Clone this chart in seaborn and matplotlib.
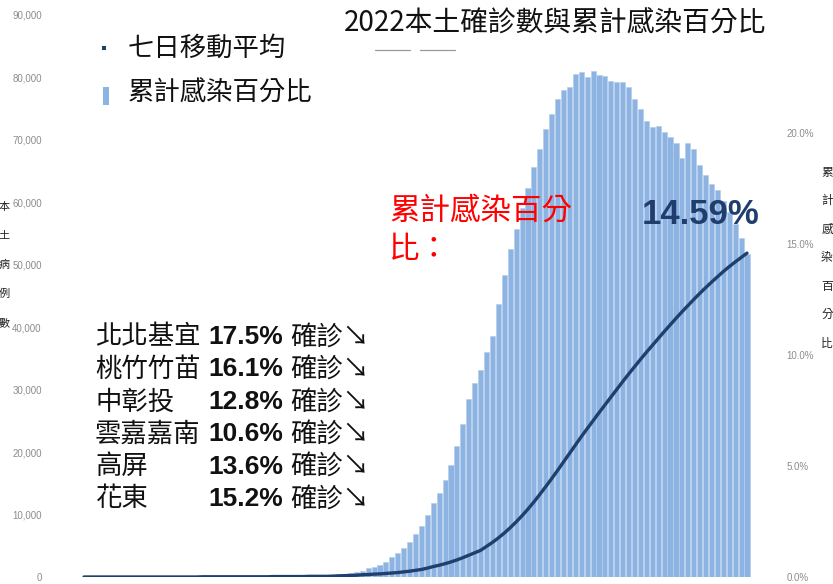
import numpy as np
import pandas as pd
import matplotlib
matplotlib.use("Agg")
import matplotlib.pyplot as plt
import seaborn as sns
from matplotlib import font_manager
from matplotlib.ticker import FuncFormatter
from matplotlib.patches import Rectangle
from matplotlib.lines import Line2D

# ---------------- data ----------------
daily_cases = [
    5, 6, 8, 10, 12, 14, 16, 18, 20, 22,
    25, 28, 30, 34, 38, 42, 46, 50, 55, 60,
    66, 72, 78, 85, 92, 100, 110, 120, 130, 140,
    150, 160, 170, 180, 190, 200, 210, 220, 230, 240,
    245,
    250, 350, 450, 500, 600, 800, 1000, 1400, 1600,
    1900, 2400, 3200, 3800, 4600, 5600, 6900, 8200, 9900,
    11900, 13500, 15500, 18000, 21000, 24500, 28500, 31000,
    33200, 36000, 38600, 43700, 48400, 52600, 55800, 59100,
    62300, 65700, 68600, 71800, 74200, 76600, 78000, 78500,
    80600, 80900, 80100, 81100, 80400, 80300, 79500, 79200,
    79200, 78500, 76600, 75000, 73000, 72100, 72300, 71200,
    70400, 69500, 67100, 69500, 68600, 66000, 64300, 63000,
    61900, 60200, 58500, 56500, 54300, 51800,
]

cum_pct = [
    0.00, 0.00, 0.00, 0.00, 0.00, 0.00, 0.00, 0.00, 0.00, 0.00,
    0.00, 0.00, 0.00, 0.00, 0.00, 0.00, 0.00, 0.00, 0.00, 0.00,
    0.01, 0.01, 0.01, 0.01, 0.01, 0.01, 0.01, 0.01, 0.01, 0.01,
    0.01, 0.01, 0.02, 0.02, 0.02, 0.02, 0.02, 0.02, 0.03, 0.03,
    0.03,
    0.03, 0.04, 0.05, 0.06, 0.07, 0.08, 0.10, 0.11, 0.13,
    0.14, 0.16, 0.18, 0.20, 0.23, 0.26, 0.30, 0.34, 0.40,
    0.47, 0.53, 0.60, 0.68, 0.77, 0.87, 0.98, 1.09,
    1.20, 1.38, 1.56, 1.76, 1.98, 2.22, 2.48, 2.76,
    3.06, 3.38, 3.72, 4.07, 4.43, 4.80, 5.18, 5.56,
    5.94, 6.32, 6.68, 7.04, 7.40, 7.75, 8.10, 8.45,
    8.80, 9.14, 9.47, 9.80, 10.12, 10.43, 10.74, 11.05,
    11.35, 11.65, 11.94, 12.22, 12.50, 12.77, 13.03, 13.28,
    13.52, 13.76, 13.98, 14.19, 14.39, 14.59,
]

left_ticks = [0, 10000, 20000, 30000, 40000, 50000, 60000, 70000, 80000, 90000]
right_ticks = [0, 5, 10, 15, 20]

title = "2022本土確診數與累計感染百分比"
legend_labels = ["七日移動平均", "累計感染百分比"]
left_label = "本土病例數"
right_label = "累計感染百分比"
red_note = ["累計感染百分", "比："]
big_value = "14.59%"
regions = ["北北基宜", "桃竹竹苗", "中彰投", "雲嘉嘉南", "高屏", "花東"]
region_pct = ["17.5%", "16.1%", "12.8%", "10.6%", "13.6%", "15.2%"]
region_tail = "確診↘"

# ---------------- style ----------------
sns.set_theme(style="white")
CJK = ["Noto Sans CJK TC", "DejaVu Sans"]
plt.rcParams["font.family"] = CJK
names = {f.name for f in font_manager.fontManager.ttflist}
NARROW = "Liberation Sans Narrow" if "Liberation Sans Narrow" in names else "Liberation Sans"
ARIAL = "Liberation Sans" if "Liberation Sans" in names else "DejaVu Sans"

BAR = "#8db3e2"
BAR_EDGE = "#b6cfee"
LINE = "#1f3f6e"
GRAY = "#8c8c8c"

W, H = 833, 584
fig = plt.figure(figsize=(W / 100, H / 100), dpi=100)

def fx(x):
    return x / W

def fy(y):
    return 1 - y / H

ax_l, ax_r, ax_t, ax_b = 82, 752, 15, 577
ax = fig.add_axes([fx(ax_l), fy(ax_b), (ax_r - ax_l) / W, (ax_b - ax_t) / H])

df_bar = pd.DataFrame({"day": np.arange(len(daily_cases)), "cases": daily_cases})
sns.barplot(data=df_bar, x="day", y="cases", color=BAR, saturation=1,
            width=0.86, edgecolor=BAR_EDGE, linewidth=0.5, ax=ax, errorbar=None)

ax2 = ax.twinx()
df_line = pd.DataFrame({"day": np.arange(len(cum_pct)), "pct": cum_pct})
sns.lineplot(data=df_line, x="day", y="pct", color=LINE, linewidth=2.4, ax=ax2)

n = len(daily_cases)
px_per = (747 - 84) / (n - 1)
ax.set_xlim(-(84 - ax_l) / px_per, (n - 1) + (ax_r - 747) / px_per)
ax.set_ylim(0, 90000)
ax2.set_ylim(0, 20 * (ax_b - ax_t) / (ax_b - 133))

ax.set_yticks(left_ticks)
ax.yaxis.set_major_formatter(FuncFormatter(lambda v, p: f"{int(v):,}"))
ax2.set_yticks(right_ticks)
ax2.yaxis.set_major_formatter(FuncFormatter(lambda v, p: f"{v:.1f}%"))
ax.set_xticks([])
ax2.set_xticks([])
for a in (ax, ax2):
    a.set_xlabel("")
    a.set_ylabel("")
    for s in a.spines.values():
        s.set_visible(False)
    a.grid(False)
ax.tick_params(axis="y", length=0, pad=29, labelsize=7, labelcolor=GRAY)
ax2.tick_params(axis="y", length=0, pad=25, labelsize=7, labelcolor=GRAY)
for lab in ax.get_yticklabels() + ax2.get_yticklabels():
    lab.set_fontfamily(NARROW)
ax.patch.set_alpha(0)

# ---------------- texts ----------------
fig.text(fx(555), fy(23), title, ha="center", va="center", fontsize=20,
         color="#111111", family=CJK)
for x0, x1 in [(375, 410), (420, 455)]:
    fig.add_artist(Line2D([fx(x0), fx(x1)], [fy(50), fy(50)], color="#9a9a9a",
                          linewidth=0.9, transform=fig.transFigure))

# legend
fig.add_artist(Rectangle((fx(102), fy(50)), 4 / W, 4 / H, transform=fig.transFigure,
                         facecolor=LINE, edgecolor="none"))
fig.add_artist(Rectangle((fx(103), fy(105)), 6 / W, 18 / H, transform=fig.transFigure,
                         facecolor=BAR, edgecolor="none"))
fig.text(fx(128), fy(48), legend_labels[0], ha="left", va="center", fontsize=19,
         color="#111111", family=CJK)
fig.text(fx(128), fy(93), legend_labels[1], ha="left", va="center", fontsize=19,
         color="#111111", family=CJK)

# axis labels (stacked characters)
for k, ch in enumerate(left_label):
    fig.text(fx(4), fy(207 + 29 * k), ch, ha="center", va="center", fontsize=8,
             color="#222222", family=CJK)
for k, ch in enumerate(right_label):
    fig.text(fx(827), fy(172 + 28.5 * k), ch, ha="center", va="center", fontsize=8.5,
             color="#222222", family=CJK)

# red note
fig.text(fx(389), fy(211), red_note[0], ha="left", va="center", fontsize=22,
         color="#ff0000", family=CJK)
fig.text(fx(389), fy(250), red_note[1], ha="left", va="center", fontsize=22,
         color="#ff0000", family=CJK)

# big value
fig.text(fx(701), fy(214), big_value, ha="center", va="center", fontsize=25,
         fontweight="bold", color="#1f3d6d", family=NARROW)

# regional list
for k, (nm, pc) in enumerate(zip(regions, region_pct)):
    y = 337 + 32.4 * k
    fig.text(fx(95), fy(y), nm, ha="left", va="center", fontsize=19,
             color="#111111", family=CJK)
    fig.text(fx(208), fy(y), pc, ha="left", va="center", fontsize=19,
             fontweight="bold", color="#111111", family=ARIAL)
    fig.text(fx(290), fy(y), region_tail, ha="left", va="center", fontsize=19,
             color="#111111", family=CJK)

fig.savefig("out.png", dpi=100)
